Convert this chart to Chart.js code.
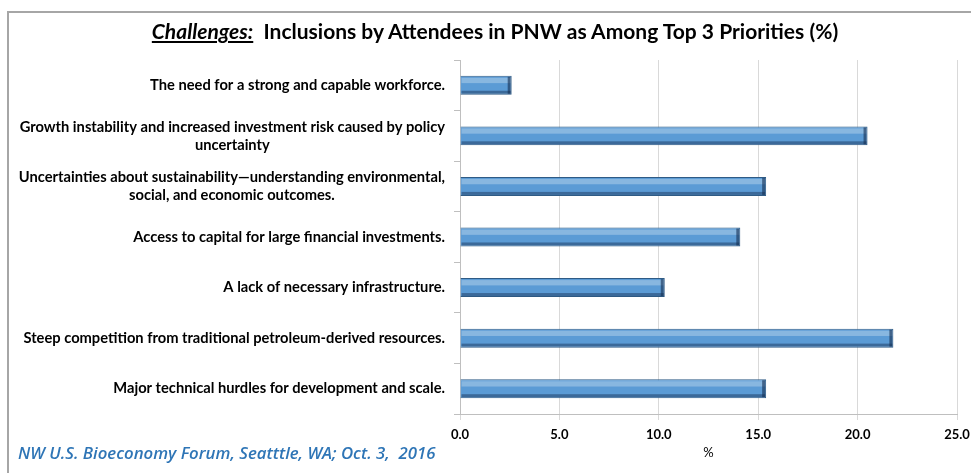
<!DOCTYPE html>
<html>
<head>
<meta charset="utf-8">
<script src="https://cdn.jsdelivr.net/npm/chart.js@4.4.1/dist/chart.umd.min.js"></script>
<style>
  html, body { margin: 0; padding: 0; background: #fff; overflow: hidden; }
  #wrap { position: relative; width: 971px; height: 473px; overflow: hidden; }
  #frame { position: absolute; left: 7px; top: 11px; width: 1100px; height: 1000px;
           border: 2px solid #a6a6a6; box-sizing: border-box; }
  #grafico { position: absolute; left: 0; top: 0; }
  #titulo { position: absolute; left: 0; top: 18px; width: 990px; text-align: center;
            font: bold 21px Lato, "Open Sans", sans-serif; color: #000; white-space: pre; }
  #titulo span { font-style: italic; text-decoration: underline; }
  #pie { position: absolute; left: 18px; top: 441px; white-space: pre;
         font: italic 600 16.8px "Open Sans", Lato, sans-serif; color: #2e75b6; }
</style>
</head>
<body>
<div id="wrap">
  <div id="frame"></div>
  <canvas id="grafico" width="971" height="473"></canvas>
  <div id="titulo"><span>Challenges:</span>  Inclusions by Attendees in PNW as Among Top 3 Priorities (%)</div>
  <div id="pie">NW U.S. Bioeconomy Forum, Seatttle, WA; Oct. 3,  2016</div>
</div>
<script>
// Datos del grafico
const categorias = [
  ["The need for a strong and capable workforce."],
  ["Growth instability and increased investment risk caused by policy", "uncertainty"],
  ["Uncertainties about sustainability\u2014understanding environmental,", "social, and economic outcomes."],
  ["Access to capital for large financial investments."],
  ["A lack of necessary infrastructure."],
  ["Steep competition from traditional petroleum-derived resources."],
  ["Major technical hurdles for development and scale."]
];
const valores = [2.6, 20.5, 15.4, 14.1, 10.3, 21.8, 15.4];
const ejeMin = 0;
const ejeMax = 25;
const ejePaso = 5;

const fuente = "Lato, 'Open Sans', sans-serif";

// Etiquetas del eje Y: bloque alineado a la derecha, lineas centradas entre si
const etiquetasY = {
  id: "etiquetasY",
  afterDraw(chart) {
    const ctx = chart.ctx;
    const y = chart.scales.y;
    ctx.save();
    ctx.font = "bold 14.7px " + fuente;
    ctx.fillStyle = "#000";
    ctx.textBaseline = "middle";
    ctx.textAlign = "center";
    const alto = 18;
    const derecha = y.right - 15;
    categorias.forEach((lineas, i) => {
      const cy = y.getPixelForValue(i);
      const ancho = Math.max(...lineas.map((l) => ctx.measureText(l).width));
      const cx = derecha - ancho / 2;
      const inicio = cy - ((lineas.length - 1) * alto) / 2;
      lineas.forEach((l, j) => ctx.fillText(l, cx, inicio + j * alto));
    });
    ctx.restore();
  }
};

// Relieve de las barras (brillo arriba, sombra abajo y al final)
const relieve = {
  id: "relieve",
  afterDatasetsDraw(chart) {
    const ctx = chart.ctx;
    const meta = chart.getDatasetMeta(0);
    ctx.save();
    meta.data.forEach((bar) => {
      const { x, y, base, height } = bar.getProps(["x", "y", "base", "height"], true);
      const top = y - height / 2;
      const w = x - base;
      ctx.fillStyle = "rgba(255,255,255,0.28)";
      ctx.fillRect(base + 1, top + 2, w - 2, height * 0.28);
      ctx.fillStyle = "rgba(20,45,80,0.45)";
      ctx.fillRect(base + 1, top + height - 4, w - 2, 3);
      ctx.fillStyle = "rgba(20,45,80,0.6)";
      ctx.fillRect(x - 4, top + 1, 3, height - 2);
    });
    ctx.restore();
  }
};

new Chart(document.getElementById("grafico"), {
  type: "bar",
  data: {
    labels: categorias,
    datasets: [{
      data: valores,
      backgroundColor: "#5b9bd5",
      borderColor: "#2f5b85",
      borderWidth: 1,
      barPercentage: 0.375,
      categoryPercentage: 1
    }]
  },
  options: {
    indexAxis: "y",
    responsive: false,
    animation: false,
    layout: { padding: { top: 60, right: 0, left: 0, bottom: 0 } },
    plugins: { legend: { display: false }, tooltip: { enabled: false } },
    scales: {
      y: {
        afterFit: (s) => { s.width = 460; },
        ticks: { display: false },
        grid: { drawOnChartArea: false, offset: true, tickLength: 6, color: "#bfbfbf" },
        border: { color: "#bfbfbf" }
      },
      x: {
        min: ejeMin,
        max: ejeMax,
        afterFit: (s) => { s.height = 59; s.paddingRight = 14; },
        ticks: {
          stepSize: ejePaso,
          padding: 7,
          color: "#000",
          font: { family: fuente, size: 13, weight: "bold" },
          callback: (v) => v.toFixed(1)
        },
        grid: { color: "#d9d9d9", tickLength: 6 },
        border: { color: "#bfbfbf", width: 1 },
        title: {
          display: true,
          text: "%",
          color: "#000",
          font: { family: fuente, size: 13 },
          padding: { top: 2, bottom: 12 }
        }
      }
    }
  },
  plugins: [etiquetasY, relieve]
});
</script>
</body>
</html>
